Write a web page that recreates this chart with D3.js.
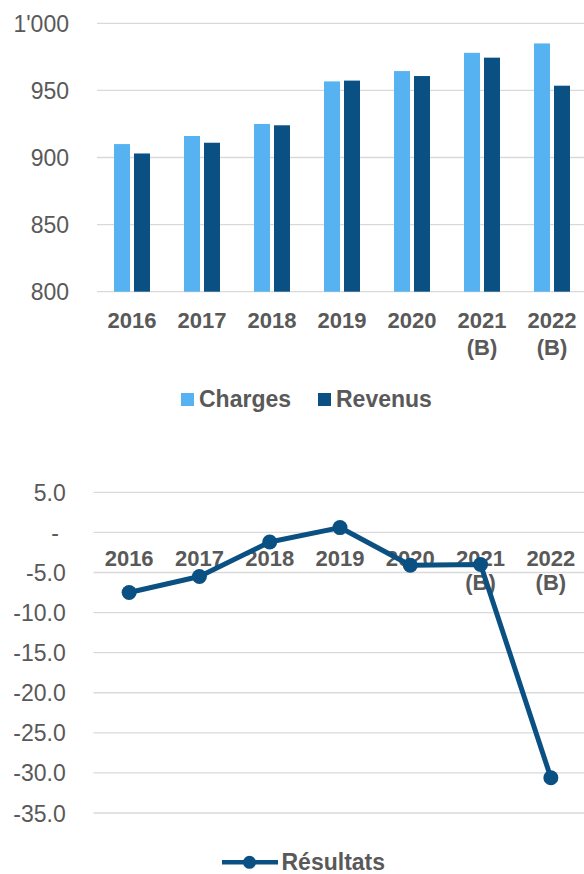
<!DOCTYPE html>
<html lang="fr">
<head>
<meta charset="utf-8">
<title>Charges, revenus et résultats</title>
<script src="https://d3js.org/d3.v7.min.js"></script>
<style>
  body { margin: 0; background: #fff; }
  svg { display: block; font-family: Arial, "Liberation Sans", sans-serif; }
  .grid line { stroke: #d9d9d9; stroke-width: 1.3px; }
  .ytick { fill: #595959; font-size: 23px; }
  .xlab { fill: #595959; font-size: 22px; font-weight: bold; }
  .leg { fill: #595959; font-size: 23px; font-weight: bold; }
</style>
</head>
<body>
<div id="chart"></div>
<script>
// data
var categories = ["2016", "2017", "2018", "2019", "2020", "2021 (B)", "2022 (B)"];
var charges = [910, 916, 925, 956.7, 964.4, 978, 985];
var revenus = [903, 911, 924, 957.3, 960.7, 974.4, 953.5];
var resultats = [-7.5, -5.5, -1.2, 0.6, -4.1, -4.0, -30.6];
var barTicks = [800, 850, 900, 950, 1000];
var lineTicks = [5, 0, -5, -10, -15, -20, -25, -30, -35];
var seriesNames = ["Charges", "Revenus"];

var colLight = "#56b2f0",
    colDark = "#0a5082";

// plain hyphen for negatives, like the source sheet
var fmt = d3.formatLocale({ decimal: ".", thousands: "'", grouping: [3], currency: ["", ""], minus: "-" });

var svg = d3.select("#chart").append("svg")
  .attr("width", 584)
  .attr("height", 874);

// ---------- top chart : bars ----------
var barG = svg.append("g");

var x0 = d3.scaleBand()
  .domain(categories)
  .range([97, 587])
  .paddingInner(0.486)
  .paddingOuter(0.243);

var x1 = d3.scaleBand()
  .domain(seriesNames)
  .range([0, x0.bandwidth()])
  .paddingInner(0.2);

var yBar = d3.scaleLinear()
  .domain([800, 1000])
  .range([291.7, 23.3]);

// gridlines
barG.append("g").attr("class", "grid")
  .selectAll("line")
  .data(barTicks)
  .join("line")
    .attr("x1", 97).attr("x2", 584)
    .attr("y1", function(d) { return yBar(d); })
    .attr("y2", function(d) { return yBar(d); });

// y labels
var yAxisTop = d3.axisLeft(yBar)
  .tickValues(barTicks)
  .tickSize(0)
  .tickFormat(fmt.format(",d"));
barG.append("g")
  .attr("transform", "translate(69,0)")
  .call(yAxisTop)
  .call(function(g) { g.select(".domain").remove(); })
  .selectAll("text")
    .attr("class", "ytick")
    .attr("x", 0)
    .attr("dy", "0.35em");

var rows = categories.map(function(c, i) {
  return { cat: c, Charges: charges[i], Revenus: revenus[i] };
});

var groups = barG.append("g").selectAll("g")
  .data(rows)
  .join("g")
    .attr("transform", function(d) { return "translate(" + x0(d.cat) + ",0)"; });

groups.selectAll("rect")
  .data(function(d) { return seriesNames.map(function(k) { return { key: k, value: d[k] }; }); })
  .join("rect")
    .attr("x", function(d) { return x1(d.key); })
    .attr("y", function(d) { return yBar(d.value); })
    .attr("width", x1.bandwidth())
    .attr("height", function(d) { return yBar(800) - yBar(d.value); })
    .attr("fill", function(d) { return d.key === "Charges" ? colLight : colDark; });

// x labels (two lines for budget years)
function drawCatLabels(g, xpos, y0, lineGap) {
  var t = g.append("g").selectAll("text")
    .data(categories)
    .join("text")
      .attr("class", "xlab")
      .attr("text-anchor", "middle")
      .attr("x", xpos)
      .attr("y", y0);
  t.selectAll("tspan")
    .data(function(d) { return d.split(" "); })
    .join("tspan")
      .attr("x", function() { return d3.select(this.parentNode).attr("x"); })
      .attr("dy", function(d, i) { return i === 0 ? 0 : lineGap; })
      .text(function(d) { return d; });
}
drawCatLabels(barG, function(d) { return x0(d) + x0.bandwidth() / 2; }, 327.5, 27.5);

// legend top
var legTop = barG.append("g");
var legItems = [
  { name: "Charges", color: colLight, x: 181 },
  { name: "Revenus", color: colDark, x: 318 }
];
legTop.selectAll("rect")
  .data(legItems)
  .join("rect")
    .attr("x", function(d) { return d.x; })
    .attr("y", 393)
    .attr("width", 13)
    .attr("height", 13)
    .attr("fill", function(d) { return d.color; });
legTop.selectAll("text")
  .data(legItems)
  .join("text")
    .attr("class", "leg")
    .attr("x", function(d) { return d.x + 18; })
    .attr("y", 407)
    .text(function(d) { return d.name; });

// ---------- bottom chart : line ----------
var lineG = svg.append("g");

var xPt = d3.scalePoint()
  .domain(categories)
  .range([94, 586])
  .padding(0.5);

var yLine = d3.scaleLinear()
  .domain([-35, 5])
  .range([813, 492.3]);

lineG.append("g").attr("class", "grid")
  .selectAll("line")
  .data(lineTicks)
  .join("line")
    .attr("x1", 93.5).attr("x2", 584)
    .attr("y1", function(d) { return yLine(d); })
    .attr("y2", function(d) { return yLine(d); });

var f1 = fmt.format(".1f");
var yAxisBot = d3.axisLeft(yLine)
  .tickValues(lineTicks)
  .tickSize(0)
  .tickFormat(function(d) { return d === 0 ? "-" : f1(d); });
lineG.append("g")
  .attr("transform", "translate(65.7,0)")
  .call(yAxisBot)
  .call(function(g) { g.select(".domain").remove(); })
  .selectAll("text")
    .attr("class", "ytick")
    .attr("x", function(d) { return d === 0 ? -6.7 : 0; })
    .attr("dy", "0.35em");

drawCatLabels(lineG, function(d) { return xPt(d); }, 565.7, 23.8);

var line = d3.line()
  .x(function(d, i) { return xPt(categories[i]); })
  .y(function(d) { return yLine(d); });

lineG.append("path")
  .datum(resultats)
  .attr("fill", "none")
  .attr("stroke", colDark)
  .attr("stroke-width", 5)
  .attr("stroke-linejoin", "round")
  .attr("d", line);

lineG.append("g").selectAll("circle")
  .data(resultats)
  .join("circle")
    .attr("cx", function(d, i) { return xPt(categories[i]); })
    .attr("cy", function(d) { return yLine(d); })
    .attr("r", 7.5)
    .attr("fill", colDark);

// legend bottom
var legBot = lineG.append("g");
legBot.append("line")
  .attr("x1", 222).attr("x2", 278)
  .attr("y1", 862.3).attr("y2", 862.3)
  .attr("stroke", colDark)
  .attr("stroke-width", 4.5);
legBot.append("circle")
  .attr("cx", 249.5).attr("cy", 862.3)
  .attr("r", 6.5)
  .attr("fill", colDark);
legBot.append("text")
  .attr("class", "leg")
  .attr("x", 281.5)
  .attr("y", 869.5)
  .text("Résultats");

// let the css classes set the axis text font
svg.selectAll("g[font-size]").attr("font-size", null).attr("font-family", null);
svg.selectAll(".tick text").attr("fill", null);
</script>
</body>
</html>
